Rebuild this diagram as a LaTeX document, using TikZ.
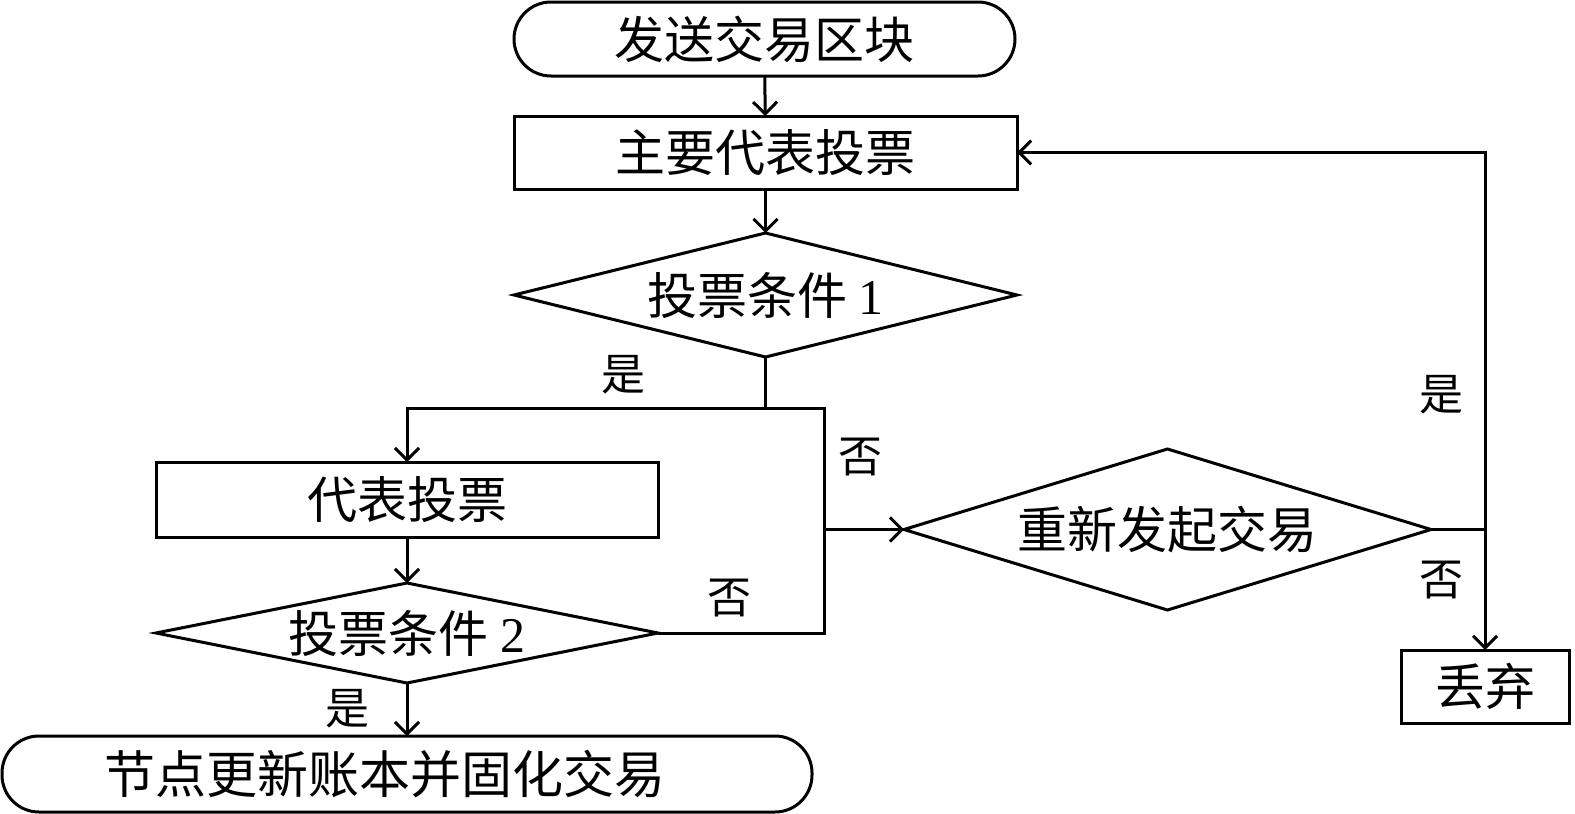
\documentclass[tikz,border=0pt]{standalone}
\usepackage{fontspec}
\setmainfont{Liberation Serif}
\newfontfamily\cjk{Noto Sans CJK SC}
\usetikzlibrary{shapes.geometric,arrows.meta}
\begin{document}
\begin{tikzpicture}[x=1pt,y=-1pt,
  every node/.style={font=\fontsize{50}{60}\selectfont\cjk, inner sep=0pt, outer sep=0pt},
  lw/.style={line width=3pt},
  procbox/.style={draw, lw, rectangle},
  termbox/.style={draw, lw, rectangle, rounded corners=37pt},
  decide/.style={draw, lw, diamond},
  lbl/.style={font=\fontsize{44}{52}\selectfont\cjk},
  conn/.style={lw},
  arr/.style={lw, -{Straight Barb[length=12pt,width=24pt]}}
]
\useasboundingbox (0,0) rectangle (1575,814);
\node[termbox, minimum width=501pt, minimum height=74pt] (start) at (764.5,39) {发送交易区块};
\node[procbox, minimum width=503pt, minimum height=73pt] (main) at (765.5,152.5) {主要代表投票};
\node[decide, minimum width=503pt, minimum height=124pt] (d1) at (765.5,295) {};
\node (t1) at (d1) {投票条件\ {\rmfamily 1}};
\node[procbox, minimum width=502pt, minimum height=75pt] (vote) at (407,499.5) {代表投票};
\node[decide, minimum width=502pt, minimum height=100pt] (d2) at (407,633) {};
\node (t2) at (d2) {投票条件\ {\rmfamily 2}};
\node[termbox, minimum width=810pt, minimum height=76pt] (end) at (407,774) {};
\node[font=\fontsize{51}{60}\selectfont\cjk] (t4) at ([xshift=-22pt]end.center) {节点更新账本并固化交易};
\node[decide, minimum width=527pt, minimum height=161pt] (d3) at (1167.5,529.5) {};
\node (t3) at (d3) {重新发起交易};
\node[procbox, minimum width=168pt, minimum height=73pt] (drop) at (1485,686.5) {丢弃};

\coordinate (j1) at (765.5,408);
\coordinate (jr) at (824,408);
\coordinate (jd) at (1485,529.5);

\draw[arr] (start) -- (main);
\draw[arr] (main) -- (d1);
\draw[conn] (d1.south) -- (j1);
\draw[arr] (j1) -| (vote.north);
\draw[conn] (j1) -- (jr) |- (d2.east);
\draw[arr] (d3.west -| jr) -- (d3.west);
\draw[arr] (vote) -- (d2);
\draw[arr] (d2) -- (end);
\draw[conn] (d3.east) -- (jd);
\draw[arr] (jd) |- (main.east);
\draw[arr] (jd) -- (drop.north);

\node[lbl] (l1) at (623,375) {是};
\node[lbl] (l2) at (860,457) {否};
\node[lbl] (l3) at (729,598) {否};
\node[lbl] (l4) at (347,709) {是};
\node[lbl] (l5) at (1441,395) {是};
\node[lbl] (l6) at (1441,580) {否};
\end{tikzpicture}
\end{document}
